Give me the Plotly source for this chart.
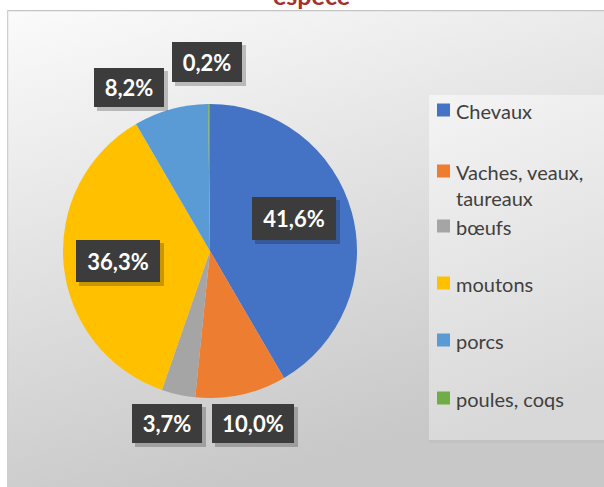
import base64
import plotly.graph_objects as go

# Livestock share by species
labels = ["Chevaux", "Vaches, veaux, taureaux", "bœufs", "moutons", "porcs", "poules, coqs"]
shares = [41.6, 10.0, 3.7, 36.3, 8.2, 0.2]
colors = ["#4472C4", "#ED7D31", "#A5A5A5", "#FFC000", "#5B9BD5", "#70AD47"]
legend_text = ["Chevaux", "Vaches, veaux,<br>taureaux", "bœufs", "moutons", "porcs", "poules, coqs"]
title_tail = "espèce"

W, H = 604, 487
FONT = "Lato, 'Open Sans', sans-serif"


def px(x):
    return x / W


def py(y):
    return 1 - y / H


def svg_uri(svg):
    return "data:image/svg+xml;base64," + base64.b64encode(svg.encode("utf-8")).decode()


# chart area background: soft diagonal grey gradient with a thin frame
bg_svg = (
    '<svg xmlns="http://www.w3.org/2000/svg" width="597" height="477" viewBox="0 0 597 477">'
    '<defs><linearGradient id="g" x1="0" y1="0" x2="0.35" y2="1">'
    '<stop offset="0" stop-color="#fbfbfb"/><stop offset="0.45" stop-color="#e4e4e4"/>'
    '<stop offset="1" stop-color="#c8c8c8"/></linearGradient></defs>'
    '<rect width="597" height="477" fill="url(#g)"/>'
    '<line x1="0" y1="0.5" x2="597" y2="0.5" stroke="#c4c4c4" stroke-width="1.5"/>'
    '<line x1="0.5" y1="0" x2="0.5" y2="477" stroke="#d0d0d0" stroke-width="1.5"/>'
    '</svg>'
)

# legend panel background
lg_svg = (
    '<svg xmlns="http://www.w3.org/2000/svg" width="176" height="348" viewBox="0 0 176 348">'
    '<defs><linearGradient id="l" x1="0" y1="0" x2="0.2" y2="1">'
    '<stop offset="0" stop-color="#f4f4f4"/><stop offset="1" stop-color="#d8d8d8"/></linearGradient></defs>'
    '<rect width="176" height="348" fill="url(#l)"/>'
    '<rect x="0" y="345" width="176" height="3" fill="#c2c2c2"/>'
    '</svg>'
)

fig = go.Figure(
    go.Pie(
        labels=labels,
        values=shares,
        marker=dict(colors=colors, line=dict(width=0)),
        sort=False,
        direction="clockwise",
        rotation=0,
        textinfo="none",
        hoverinfo="label+percent",
        showlegend=False,
        domain=dict(x=[px(63), px(357)], y=[py(398), py(104)]),
    )
)

images = [
    dict(source=svg_uri(bg_svg), xref="paper", yref="paper", x=px(7), y=py(10),
         sizex=px(604) - px(7), sizey=py(10) - py(487), sizing="stretch",
         xanchor="left", yanchor="top", layer="below"),
    dict(source=svg_uri(lg_svg), xref="paper", yref="paper", x=px(429), y=py(95),
         sizex=176 / W, sizey=348 / H, sizing="stretch",
         xanchor="left", yanchor="top", layer="below"),
]

shapes = []
annotations = []

# data label boxes: centre x, centre y, width, height (pixels)
label_boxes = [
    (294, 218.5, 84, 43),
    (253, 423.5, 82, 39),
    (167, 423.5, 70, 39),
    (118, 261, 84, 42),
    (129, 87.5, 70, 39),
    (207, 62, 70, 40),
]
for v, (cx, cy, bw, bh) in zip(shares, label_boxes):
    shapes.append(dict(type="rect", xref="paper", yref="paper",
                       x0=px(cx - bw / 2 + 3), x1=px(cx + bw / 2 + 4),
                       y0=py(cy + bh / 2 + 4), y1=py(cy - bh / 2 + 3),
                       fillcolor="rgba(0,0,0,0.22)", line=dict(width=0), layer="above"))
    annotations.append(dict(
        text="<b>" + f"{v:.1f}".replace(".", ",") + "%</b>",
        xref="paper", yref="paper", x=px(cx), y=py(cy),
        xanchor="center", yanchor="middle", showarrow=False,
        width=bw, height=bh, borderpad=0, borderwidth=0,
        bgcolor="#3c3c3c", font=dict(family=FONT, size=22, color="white"),
    ))

# legend entries
legend_y = [110, 171, 226, 283, 340, 398]
for txt, col, ly in zip(legend_text, colors, legend_y):
    shapes.append(dict(type="rect", xref="paper", yref="paper",
                       x0=px(437), x1=px(450), y0=py(ly + 6.5), y1=py(ly - 6.5),
                       fillcolor=col, line=dict(width=0), layer="above"))
    annotations.append(dict(
        text=txt, xref="paper", yref="paper", x=px(454), y=py(ly - 13),
        xanchor="left", yanchor="top", align="left", showarrow=False,
        font=dict(family=FONT, size=20, color="#404040"),
    ))

# last line of the title, clipped by the top edge
annotations.append(dict(
    text="<b>" + title_tail + "</b>", xref="paper", yref="paper",
    x=px(311), y=py(12), xanchor="center", yanchor="bottom", showarrow=False,
    font=dict(family=FONT, size=25, color="#A5302C"),
))

fig.update_layout(
    width=W, height=H,
    margin=dict(l=0, r=0, t=0, b=0),
    paper_bgcolor="white",
    images=images,
    shapes=shapes,
    annotations=annotations,
)

fig.write_html("out.html")
